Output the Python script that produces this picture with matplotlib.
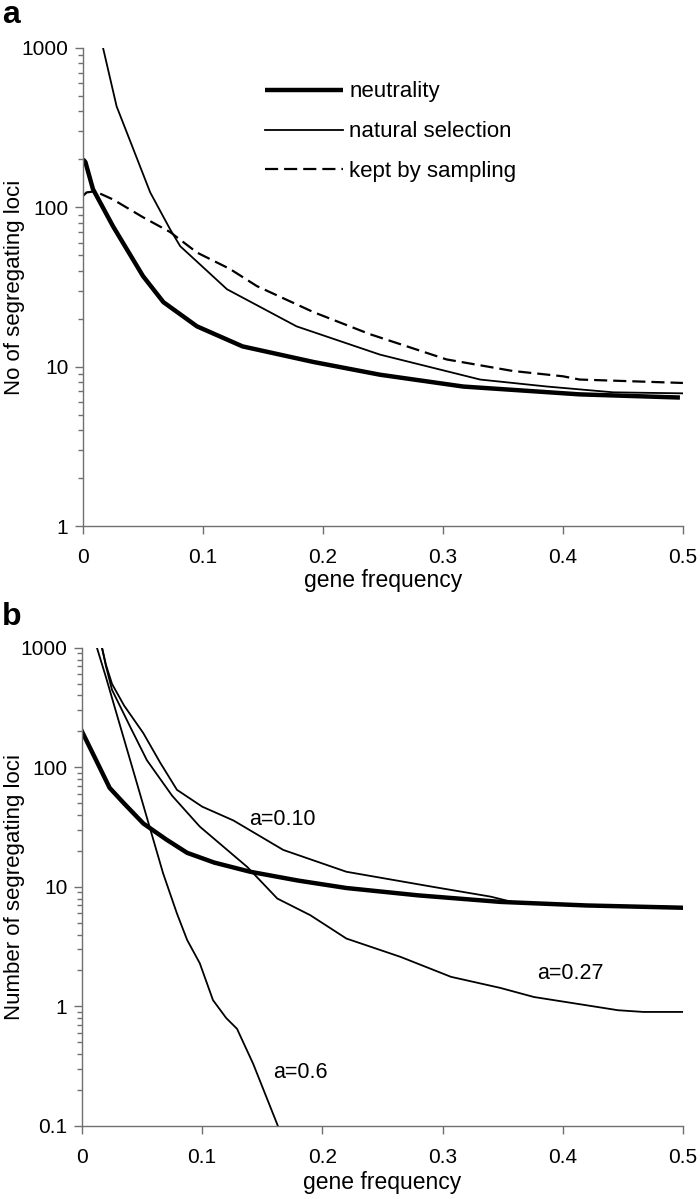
import matplotlib
matplotlib.use('Agg')
import matplotlib.pyplot as plt
from matplotlib.ticker import FixedLocator, FixedFormatter, LogLocator, NullFormatter

plt.rcParams['font.family'] = ['Liberation Sans', 'DejaVu Sans']
plt.rcParams.update({
    'axes.spines.right': False, 'axes.spines.top': False,
    'axes.edgecolor': '#707070', 'axes.linewidth': 1.0,
    'xtick.color': '#707070', 'ytick.color': '#707070',
    'xtick.labelcolor': 'black', 'ytick.labelcolor': 'black',
    'font.size': 15,
})

# ---- panel a data ----
neu_a_x = [0, 0.002, 0.0083, 0.025, 0.05, 0.067, 0.095, 0.133, 0.192, 0.2475, 0.317, 0.414, 0.4975]
neu_a_y = [200, 192, 130, 76, 37, 25.4, 17.9, 13.4, 10.7, 8.9, 7.5, 6.7, 6.4]

sel_a_x = [0.0167, 0.028, 0.042, 0.056, 0.0725, 0.081, 0.12, 0.178, 0.2475, 0.331, 0.387, 0.442, 0.5]
sel_a_y = [1000, 430, 231, 124, 73, 57, 30.6, 17.9, 11.9, 8.3, 7.5, 6.9, 6.8]

kept_a_x = [0, 0.003, 0.01, 0.025, 0.05, 0.0725, 0.095, 0.1225, 0.145, 0.192, 0.239, 0.303, 0.358, 0.4, 0.414, 0.5]
kept_a_y = [118, 124, 126, 112, 86.6, 70, 52, 41, 32, 22.0, 16.0, 11.1, 9.4, 8.7, 8.3, 7.9]

# ---- panel b data ----
neu_b_x = [0, 0.01, 0.023, 0.035, 0.051, 0.07, 0.0875, 0.11, 0.14, 0.18, 0.22, 0.28, 0.348, 0.42, 0.5]
neu_b_y = [200, 125, 67.5, 50, 34, 25, 19.3, 16, 13.4, 11.3, 9.8, 8.5, 7.5, 7.0, 6.7]

a10_x = [0.0167, 0.02, 0.025, 0.035, 0.051, 0.065, 0.079, 0.1, 0.126, 0.1675, 0.22, 0.2925, 0.34, 0.36, 0.42, 0.5]
a10_y = [1000, 720, 500, 330, 194, 110, 65, 47, 36, 20.4, 13.4, 10, 8.3, 7.4, 7.0, 6.8]

a27_x = [0.0167, 0.02, 0.025, 0.04, 0.054, 0.075, 0.098, 0.1375, 0.1625, 0.19, 0.22, 0.265, 0.307, 0.348, 0.376, 0.446, 0.467, 0.5]
a27_y = [1000, 700, 446, 220, 115, 58, 32, 14.7, 8.0, 5.8, 3.7, 2.6, 1.77, 1.43, 1.2, 0.93, 0.9, 0.9]

a60_x = [0.0125, 0.02, 0.03, 0.045, 0.0675, 0.079, 0.0875, 0.098, 0.109, 0.12, 0.129, 0.1425, 0.163]
a60_y = [1000, 567, 256, 78, 13, 6.0, 3.6, 2.3, 1.13, 0.8, 0.65, 0.33, 0.1]

xticks = [0, 0.1, 0.2, 0.3, 0.4, 0.5]
xtick_labels = ['0', '0.1', '0.2', '0.3', '0.4', '0.5']

fig = plt.figure(figsize=(7, 11.99), dpi=100)
ax_a = fig.add_axes([0.1186, 0.5613, 0.857, 0.3987])
ax_b = fig.add_axes([0.1171, 0.0609, 0.8586, 0.3987])


def style_axis(ax, ymin, yticks, ylabels):
    ax.set_yscale('log')
    ax.set_xlim(0, 0.5)
    ax.set_ylim(ymin, 1000)
    ax.xaxis.set_major_locator(FixedLocator(xticks))
    ax.xaxis.set_major_formatter(FixedFormatter(xtick_labels))
    ax.yaxis.set_major_locator(FixedLocator(yticks))
    ax.yaxis.set_major_formatter(FixedFormatter(ylabels))
    ax.yaxis.set_minor_locator(LogLocator(base=10, subs=range(2, 10)))
    ax.yaxis.set_minor_formatter(NullFormatter())
    ax.tick_params(axis='both', which='major', direction='out', length=5.5, width=1.0,
                   labelsize=15)
    ax.tick_params(axis='x', which='major', pad=10)
    ax.tick_params(axis='y', which='major', pad=5)
    ax.tick_params(axis='y', which='minor', direction='out', length=3.5, width=1.0)


# Panel a
ax_a.plot(neu_a_x, neu_a_y, color='black', lw=3.2, label='neutrality', solid_capstyle='butt')
ax_a.plot(sel_a_x, sel_a_y, color='black', lw=1.3, label='natural selection')
ax_a.plot(kept_a_x, kept_a_y, color='black', lw=1.6, dashes=(5.9, 2.7), label='kept by sampling')
style_axis(ax_a, 1, [1, 10, 100, 1000], ['1', '10', '100', '1000'])
ax_a.set_xlabel('gene frequency', fontsize=16.5, labelpad=2)
ax_a.set_ylabel('No of segregating loci', fontsize=16)
ax_a.yaxis.set_label_coords(-0.097, 0.5)
ax_a.legend(loc='upper left', bbox_to_anchor=(0.303, 0.93), frameon=False, fontsize=16,
            handlelength=3.5, handletextpad=0.3, labelspacing=0.85, borderpad=0, borderaxespad=0)

# Panel b
ax_b.plot(neu_b_x, neu_b_y, color='black', lw=3.2)
ax_b.plot(a10_x, a10_y, color='black', lw=1.3)
ax_b.plot(a27_x, a27_y, color='black', lw=1.3)
ax_b.plot(a60_x, a60_y, color='black', lw=1.3)
style_axis(ax_b, 0.1, [0.1, 1, 10, 100, 1000], ['0.1', '1', '10', '100', '1000'])
ax_b.set_xlabel('gene frequency', fontsize=16.5, labelpad=3)
ax_b.set_ylabel('Number of segregating loci', fontsize=16)
ax_b.yaxis.set_label_coords(-0.095, 0.5)
ax_b.text(0.1667, 36.4, 'a=0.10', ha='center', va='center', fontsize=15.5)
ax_b.text(0.4067, 1.9, 'a=0.27', ha='center', va='center', fontsize=15.5)
ax_b.text(0.1817, 0.278, 'a=0.6', ha='center', va='center', fontsize=15.5)

# panel letters
fig.text(0.003, 0.981, 'a', fontsize=23, fontweight='bold', va='baseline')
fig.text(0.003, 0.479, 'b', fontsize=23, fontweight='bold', va='baseline')

fig.savefig('out.png', dpi=100)
